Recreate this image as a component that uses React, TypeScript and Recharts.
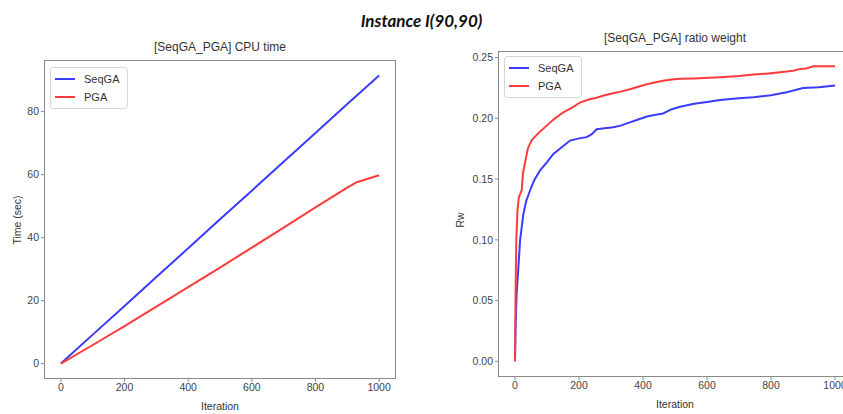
import { LineChart, Line, XAxis, YAxis, Legend } from 'recharts';

// ---- CPU time (left) ----
const cpuIter = [0, 100, 200, 300, 400, 500, 600, 700, 800, 900, 930, 1000];
const seqTime = [0, 9.2, 18.3, 27.5, 36.6, 45.8, 54.9, 64.1, 73.2, 82.4, 85.1, 91.5];
const pgaTime = [0, 5.9, 11.9, 18.1, 24.3, 30.5, 36.8, 43.2, 49.6, 55.9, 57.6, 59.8];

// ---- ratio weight (right) ----
const seqRwIter = [0, 2, 5, 10, 16, 26, 35, 47, 60, 78, 100, 120, 145, 172, 200, 224, 240, 255, 280, 307, 330, 359, 385, 412, 440, 463, 490, 516, 560, 600, 641, 700, 745, 800, 849, 900, 950, 1000];
const seqRw = [0, 0.03, 0.055, 0.075, 0.1, 0.121, 0.132, 0.1406, 0.149, 0.157, 0.164, 0.1707, 0.176, 0.1817, 0.1835, 0.1845, 0.187, 0.191, 0.1918, 0.1926, 0.194, 0.1967, 0.199, 0.2015, 0.203, 0.204, 0.2075, 0.2095, 0.212, 0.2135, 0.215, 0.2165, 0.2174, 0.219, 0.2215, 0.225, 0.2255, 0.227];
const pgaRwIter = [0, 2, 4, 8, 12, 21, 25, 31, 40, 52, 70, 99, 125, 151, 180, 203, 230, 255, 280, 307, 330, 359, 385, 412, 440, 463, 490, 516, 560, 641, 700, 745, 800, 849, 870, 891, 910, 932, 1000];
const pgaRw = [0, 0.06, 0.1, 0.125, 0.135, 0.141, 0.155, 0.163, 0.175, 0.182, 0.187, 0.194, 0.2, 0.205, 0.209, 0.213, 0.2155, 0.217, 0.219, 0.2206, 0.222, 0.224, 0.226, 0.228, 0.2297, 0.231, 0.232, 0.2325, 0.2328, 0.2338, 0.2348, 0.236, 0.2372, 0.2385, 0.2392, 0.2407, 0.241, 0.2428, 0.2428];

const xTicks = [0, 200, 400, 600, 800, 1000];
const cpuTicks = [0, 20, 40, 60, 80];
const rwTicks = [0, 0.05, 0.1, 0.15, 0.2, 0.25];

const BLUE = '#3b3bff';
const RED = '#ff3b3b';
const FRAME = '#8a8a8a';
const FONT = '"Liberation Sans", Arial, sans-serif';

const zip = (xs: number[], ys: number[]) => xs.map((x, i) => ({ x, y: ys[i] }));

const tickStyle = { fontSize: 10.5, fill: '#444', fontFamily: FONT };

function LegendBox() {
  const row = (color: string, label: string) => (
    <div style={{ display: 'flex', alignItems: 'center', height: 18 }}>
      <span style={{ width: 20, height: 2, background: color, display: 'inline-block', marginRight: 9 }} />
      <span style={{ fontSize: 11, color: '#333', fontFamily: FONT }}>{label}</span>
    </div>
  );
  return (
    <div style={{ border: '1px solid #d6d6d6', borderRadius: 3, padding: '2px 8px 2px 4px', background: '#fff' }}>
      {row(BLUE, 'SeqGA')}
      {row(RED, 'PGA')}
    </div>
  );
}

// plot frame (matplotlib box)
function Frame({ left, top, width, height }: { left: number; top: number; width: number; height: number }) {
  return (
    <div style={{
      position: 'absolute', left: left - 1, top: top - 1, width: width + 2, height: height + 2,
      border: `1.5px solid ${FRAME}`, boxSizing: 'border-box', pointerEvents: 'none',
    }} />
  );
}

export default function App() {
  return (
    <div style={{ position: 'fixed', left: 0, top: 0, width: 843, height: 414, overflow: 'hidden', background: '#fff', fontFamily: FONT }}>
      <div style={{ position: 'absolute', left: 0, width: 843, top: 10, textAlign: 'center', fontFamily: 'Lato, sans-serif', fontWeight: 700, fontStyle: 'italic', fontSize: 17, color: '#111' }}>
        Instance I(90,90)
      </div>
      <div style={{ position: 'absolute', left: 45, width: 350, top: 40, textAlign: 'center', fontSize: 12, color: '#333' }}>[SeqGA_PGA] CPU time</div>
      <div style={{ position: 'absolute', left: 499, width: 352, top: 31, textAlign: 'center', fontSize: 12, color: '#333' }}>[SeqGA_PGA] ratio weight</div>
      <div style={{ position: 'absolute', left: 45, width: 350, top: 400, textAlign: 'center', fontSize: 10.5, color: '#333' }}>Iteration</div>
      <div style={{ position: 'absolute', left: 499, width: 352, top: 398, textAlign: 'center', fontSize: 10.5, color: '#333' }}>Iteration</div>
      <div style={{ position: 'absolute', left: 17, top: 220, transform: 'translate(-50%,-50%) rotate(-90deg)', fontSize: 10.5, color: '#333', whiteSpace: 'nowrap' }}>Time (sec)</div>
      <div style={{ position: 'absolute', left: 460, top: 220, transform: 'translate(-50%,-50%) rotate(-90deg)', fontSize: 10.5, color: '#333', whiteSpace: 'nowrap' }}>Rw</div>

      {/* left: CPU time */}
      <div style={{ position: 'absolute', left: 0, top: 0 }}>
        <LineChart width={420} height={414} margin={{ top: 61, right: 25, bottom: 0, left: 0 }}>
          <XAxis dataKey="x" type="number" domain={[-50, 1050]} ticks={xTicks} height={36}
            tick={tickStyle} tickSize={4} stroke={FRAME} axisLine={false} />
          <YAxis type="number" domain={[-4.575, 96.075]} ticks={cpuTicks} width={45}
            tick={tickStyle} tickSize={4} stroke={FRAME} axisLine={false} />
          <Legend layout="vertical" align="center" verticalAlign="middle"
            wrapperStyle={{ left: 50, top: 67, width: 'auto', height: 'auto' }} content={() => <LegendBox />} />
          <Line data={zip(cpuIter, seqTime)} dataKey="y" name="SeqGA" stroke={BLUE} strokeWidth={2} dot={false} isAnimationActive={false} />
          <Line data={zip(cpuIter, pgaTime)} dataKey="y" name="PGA" stroke={RED} strokeWidth={2} dot={false} isAnimationActive={false} />
        </LineChart>
      </div>
      <Frame left={45} top={61} width={350} height={317} />

      {/* right: ratio weight */}
      <div style={{ position: 'absolute', left: 440, top: 0 }}>
        <LineChart width={420} height={414} margin={{ top: 52, right: 9, bottom: 0, left: 0 }}>
          <XAxis dataKey="x" type="number" domain={[-50, 1050]} ticks={xTicks} height={38}
            tick={tickStyle} tickSize={4} stroke={FRAME} axisLine={false} />
          <YAxis type="number" domain={[-0.0121, 0.2546]} ticks={rwTicks} width={59}
            tick={tickStyle} tickSize={4} stroke={FRAME} tickFormatter={(v: number) => v.toFixed(2)}
            axisLine={false} />
          <Legend layout="vertical" align="center" verticalAlign="middle"
            wrapperStyle={{ left: 64, top: 56, width: 'auto', height: 'auto' }} content={() => <LegendBox />} />
          <Line data={zip(seqRwIter, seqRw)} dataKey="y" name="SeqGA" stroke={BLUE} strokeWidth={2} dot={false} isAnimationActive={false} />
          <Line data={zip(pgaRwIter, pgaRw)} dataKey="y" name="PGA" stroke={RED} strokeWidth={2} dot={false} isAnimationActive={false} />
        </LineChart>
      </div>
      <Frame left={499} top={52} width={352} height={324} />
    </div>
  );
}
